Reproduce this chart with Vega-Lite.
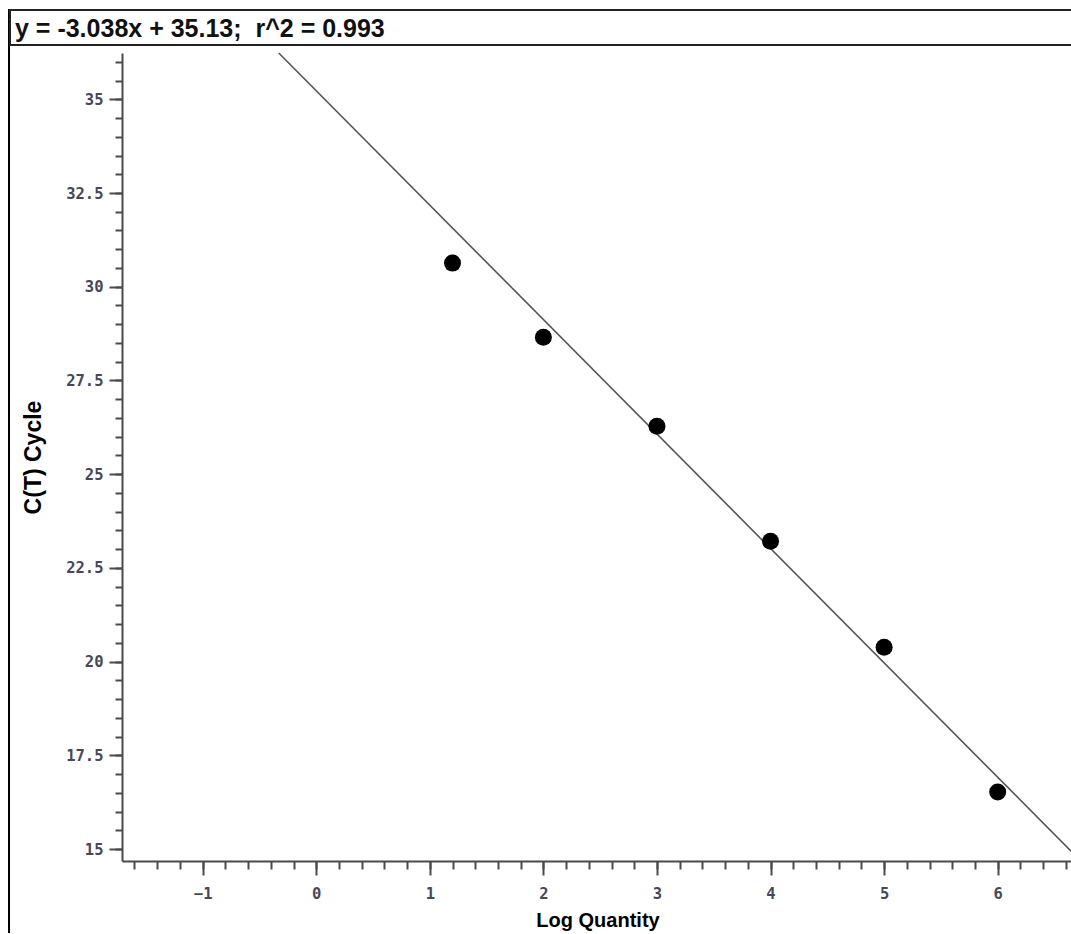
{
  "$schema": "https://vega.github.io/schema/vega-lite/v6.json",
  "padding": {"left": 8, "top": 9, "right": 0, "bottom": 0},
  "background": "white",
  "bounds": "flush",
  "spacing": 0,
  "config": {
    "view": {"stroke": null},
    "axis": {
      "grid": false,
      "labelFont": "DejaVu Sans Mono",
      "labelFontWeight": "bold",
      "labelFontSize": 15.5,
      "labelColor": "#474758",
      "tickColor": "#4a4a4a",
      "tickWidth": 2,
      "domainColor": "#4a4a4a",
      "domainWidth": 2,
      "titleFont": "Liberation Sans",
      "titleFontWeight": "bold",
      "titleFontSize": 20,
      "titleColor": "#000000"
    }
  },
  "hconcat": [
    {
      "width": 0.01,
      "height": 922,
      "view": {"stroke": "#000000", "strokeWidth": 2},
      "data": {"values": []},
      "mark": "point"
    },
    {
      "spacing": 8,
      "bounds": "flush",
      "vconcat": [
        {
          "width": 1075,
          "height": 35,
          "view": {"stroke": "#222222", "strokeWidth": 2},
          "data": {"values": [{"equation": "y = -3.038x + 35.13;\u00a0 r^2 = 0.993"}]},
          "mark": {"type": "text", "align": "left", "baseline": "alphabetic", "font": "Liberation Sans", "fontWeight": "bold", "fontSize": 25, "color": "#111111", "dx": 5, "dy": 9.5},
          "encoding": {
            "text": {"field": "equation"},
            "x": {"datum": 0, "type": "quantitative", "scale": {"domain": [0, 1]}, "axis": null}
          }
        },
        {
          "spacing": 111,
          "bounds": "flush",
          "hconcat": [
            {"width": 0.01, "height": 808, "data": {"values": []}, "mark": "point"},
            {
              "width": 951,
              "height": 808,
              "layer": [
                {
                  "data": {"values": [{"logQuantity": -0.33, "ct": 36.235}, {"logQuantity": 6.663, "ct": 14.89}]},
                  "mark": {"type": "line", "color": "#555555", "strokeWidth": 1.6},
                  "encoding": {
                    "x": {"field": "logQuantity", "type": "quantitative", "scale": {"domain": [-1.71, 6.663], "nice": false, "zero": false},
                      "axis": {"orient": "bottom", "values": [-1, 0, 1, 2, 3, 4, 5, 6], "format": "d", "tickSize": 14, "labelPadding": 11, "title": "Log Quantity", "titleBaseline": "alphabetic", "titleY": 65}},
                    "y": {"field": "ct", "type": "quantitative", "scale": {"domain": [14.68, 36.235], "nice": false, "zero": false},
                      "axis": {"orient": "left", "values": [15, 17.5, 20, 22.5, 25, 27.5, 30, 32.5, 35], "labelExpr": "datum.value + ''", "tickSize": 13, "labelPadding": 6, "title": "C(T) Cycle", "titleFontSize": 23, "titleX": -82, "titleBaseline": "alphabetic"}}
                  }
                },
                {
                  "data": {"values": [
                    {"logQuantity": 1.2, "ct": 30.63},
                    {"logQuantity": 2.0, "ct": 28.65},
                    {"logQuantity": 3.0, "ct": 26.28},
                    {"logQuantity": 4.0, "ct": 23.21},
                    {"logQuantity": 5.0, "ct": 20.38},
                    {"logQuantity": 6.0, "ct": 16.52}
                  ]},
                  "mark": {"type": "point", "filled": true, "color": "#000000", "opacity": 1, "size": 290},
                  "encoding": {
                    "x": {"field": "logQuantity", "type": "quantitative",
                      "axis": {"orient": "bottom", "values": [-1.6, -1.4, -1.2, -1, -0.8, -0.6, -0.4, -0.2, 0, 0.2, 0.4, 0.6, 0.8, 1, 1.2, 1.4, 1.6, 1.8, 2, 2.2, 2.4, 2.6, 2.8, 3, 3.2, 3.4, 3.6, 3.8, 4, 4.2, 4.4, 4.6, 4.8, 5, 5.2, 5.4, 5.6, 5.8, 6, 6.2, 6.4, 6.6], "tickSize": 8, "labels": false, "domain": false, "title": null}},
                    "y": {"field": "ct", "type": "quantitative",
                      "axis": {"orient": "left", "values": [15, 15.5, 16, 16.5, 17, 17.5, 18, 18.5, 19, 19.5, 20, 20.5, 21, 21.5, 22, 22.5, 23, 23.5, 24, 24.5, 25, 25.5, 26, 26.5, 27, 27.5, 28, 28.5, 29, 29.5, 30, 30.5, 31, 31.5, 32, 32.5, 33, 33.5, 34, 34.5, 35, 35.5, 36], "tickSize": 7, "labels": false, "domain": false, "title": null}}
                  }
                }
              ],
              "resolve": {"axis": {"x": "independent", "y": "independent"}}
            }
          ]
        }
      ]
    }
  ]
}
